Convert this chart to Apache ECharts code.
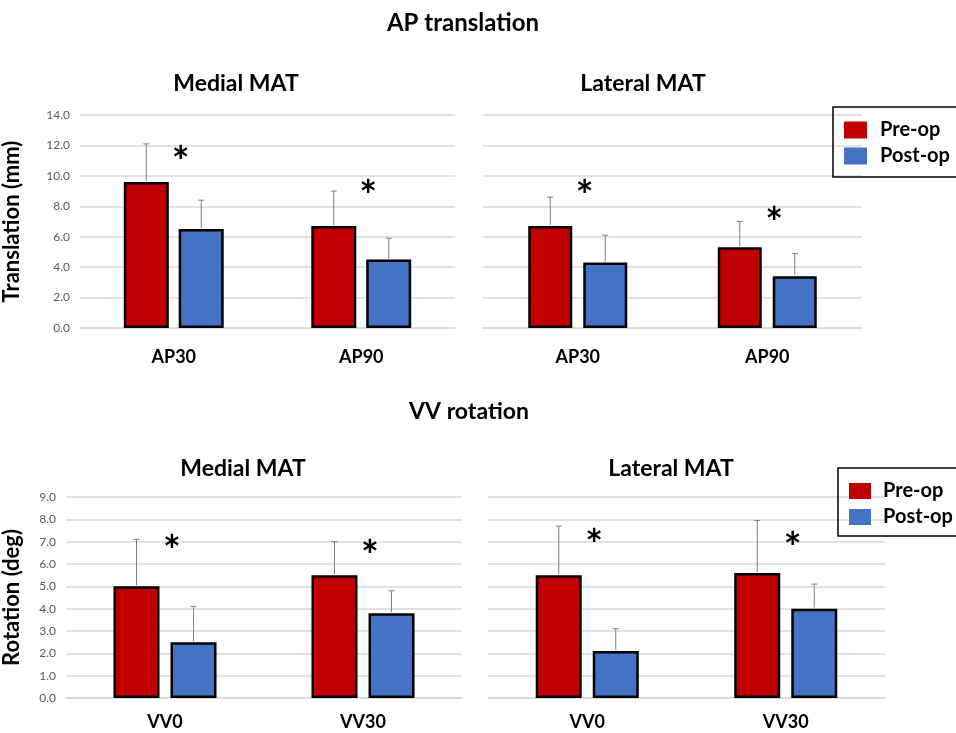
<!DOCTYPE html>
<html>
<head>
<meta charset="utf-8">
<script src="https://cdn.jsdelivr.net/npm/echarts@6/dist/echarts.min.js"></script>
<style>html,body{margin:0;padding:0;background:#fff;}#c{width:956px;height:733px;}</style>
</head>
<body>
<div id="c"></div>
<script>
// ---- data ----
const apCategories = ['AP30', 'AP90'];
const vvCategories = ['VV0', 'VV30'];

const apMedialPre = [9.6, 6.7];
const apMedialPreSD = [2.5, 2.3];
const apMedialPost = [6.5, 4.5];
const apMedialPostSD = [1.9, 1.4];

const apLateralPre = [6.7, 5.3];
const apLateralPreSD = [1.9, 1.7];
const apLateralPost = [4.3, 3.4];
const apLateralPostSD = [1.8, 1.5];

const vvMedialPre = [5.0, 5.5];
const vvMedialPreSD = [2.1, 1.5];
const vvMedialPost = [2.5, 3.8];
const vvMedialPostSD = [1.6, 1.0];

const vvLateralPre = [5.5, 5.6];
const vvLateralPreSD = [2.2, 2.35];
const vvLateralPost = [2.1, 4.0];
const vvLateralPostSD = [1.0, 1.1];

// significance markers (y value where the asterisk sits)
const apMedialStar = [11.4, 9.2];
const apLateralStar = [9.15, 7.4];
const vvMedialStar = [6.9, 6.7];
const vvLateralStar = [7.2, 7.05];

const apTicks = [0, 2, 4, 6, 8, 10, 12, 14];
const vvTicks = [0, 1, 2, 3, 4, 5, 6, 7, 8, 9];

// ---- style ----
const FONT = 'Lato, "Open Sans", sans-serif';
const RED = '#C00000', BLUE = '#4472C4';

const panels = [
  {grid: {left: 77, top: 115, width: 378, height: 213}, cats: apCategories, yMax: 14, yInt: 2, showY: true,
   yName: 'Translation (mm)', nameGap: 57, pre: apMedialPre, preSD: apMedialPreSD, post: apMedialPost, postSD: apMedialPostSD,
   star: apMedialStar, barW: 45, gapPx: 10, labelMargin: 20},
  {grid: {left: 483, top: 115, width: 379, height: 213}, cats: apCategories, yMax: 14, yInt: 2, showY: false,
   yName: '', nameGap: 0, pre: apLateralPre, preSD: apLateralPreSD, post: apLateralPost, postSD: apLateralPostSD,
   star: apLateralStar, barW: 44, gapPx: 11, labelMargin: 20},
  {grid: {left: 63, top: 497, width: 399, height: 201}, cats: vvCategories, yMax: 9, yInt: 1, showY: true,
   yName: 'Rotation (deg)', nameGap: 43, pre: vvMedialPre, preSD: vvMedialPreSD, post: vvMedialPost, postSD: vvMedialPostSD,
   star: vvMedialStar, barW: 46, gapPx: 11, labelMargin: 15},
  {grid: {left: 488, top: 497, width: 397, height: 201}, cats: vvCategories, yMax: 9, yInt: 1, showY: false,
   yName: '', nameGap: 0, pre: vvLateralPre, preSD: vvLateralPreSD, post: vvLateralPost, postSD: vvLateralPostSD,
   star: vvLateralStar, barW: 46, gapPx: 11, labelMargin: 15}
];

const grids = [], xAxes = [], yAxes = [], series = [];

panels.forEach((p, i) => {
  grids.push(Object.assign({containLabel: false}, p.grid));
  xAxes.push({
    type: 'category', gridIndex: i, data: p.cats,
    axisLine: {show: true, lineStyle: {color: '#d9d9d9', width: 1.5}},
    axisTick: {show: false},
    axisLabel: {fontFamily: FONT, fontSize: 18, fontWeight: 'bold', color: '#000', margin: p.labelMargin}
  });
  yAxes.push({
    type: 'value', gridIndex: i, min: 0, max: p.yMax, interval: p.yInt,
    name: p.yName, nameLocation: 'middle', nameGap: p.nameGap,
    nameTextStyle: {fontFamily: FONT, fontSize: 22, fontWeight: 'bold', color: '#000'},
    axisLine: {show: false}, axisTick: {show: false},
    axisLabel: {show: p.showY, fontFamily: FONT, fontSize: 12, color: '#595959', margin: 10,
                formatter: v => v.toFixed(1)},
    splitLine: {lineStyle: {color: '#d9d9d9', width: 1.5}}
  });
  const gapPct = Math.round(p.gapPx / p.barW * 100) + '%';
  series.push({
    type: 'bar', name: 'Pre-op', xAxisIndex: i, yAxisIndex: i, data: p.pre,
    barWidth: p.barW, barGap: gapPct, z: 2,
    itemStyle: {color: RED, borderColor: '#000', borderWidth: 2.5}
  });
  series.push({
    type: 'bar', name: 'Post-op', xAxisIndex: i, yAxisIndex: i, data: p.post,
    barWidth: p.barW, barGap: gapPct, z: 2,
    itemStyle: {color: BLUE, borderColor: '#000', borderWidth: 2.5}
  });
  const half = (p.barW + p.gapPx) / 2;
  [[p.pre, p.preSD, -half], [p.post, p.postSD, half]].forEach(([vals, sds, off]) => {
    series.push({
      type: 'custom', xAxisIndex: i, yAxisIndex: i, z: 3,
      data: vals.map((v, k) => [k, v, sds[k]]),
      encode: {x: 0, y: 1},
      renderItem: (params, api) => {
        const base = api.coord([api.value(0), api.value(1)]);
        const top = api.coord([api.value(0), api.value(1) + api.value(2)]);
        const x = base[0] + off;
        return {type: 'group', children: [
          {type: 'line', shape: {x1: x, y1: base[1] - 1, x2: x, y2: top[1]},
           style: {stroke: '#7f7f7f', lineWidth: 1}},
          {type: 'line', shape: {x1: x - 3, y1: top[1], x2: x + 3, y2: top[1]},
           style: {stroke: '#7f7f7f', lineWidth: 1}}
        ]};
      }
    });
  });
  series.push({
    type: 'custom', xAxisIndex: i, yAxisIndex: i, z: 4,
    data: p.star.map((v, k) => [k, v]),
    encode: {x: 0, y: 1},
    renderItem: (params, api) => {
      const c = api.coord([api.value(0), api.value(1)]);
      return {type: 'text', x: c[0] + 7, y: c[1] + 9,
        style: {text: '*', fontFamily: FONT, fontSize: 42, fontWeight: 'bold', fill: '#000',
                align: 'center', verticalAlign: 'middle'}};
    }
  });
});

const titleStyle = {fontFamily: FONT, fontWeight: 'bold', color: '#000'};
const option = {
  animation: false,
  backgroundColor: '#fff',
  title: [
    {text: 'AP translation', left: 458, top: 6, textAlign: 'center', textStyle: Object.assign({fontSize: 24}, titleStyle)},
    {text: 'Medial MAT', left: 231, top: 67, textAlign: 'center', textStyle: Object.assign({fontSize: 23}, titleStyle)},
    {text: 'Lateral MAT', left: 638, top: 67, textAlign: 'center', textStyle: Object.assign({fontSize: 23}, titleStyle)},
    {text: 'VV rotation', left: 464, top: 395, textAlign: 'center', textStyle: Object.assign({fontSize: 23}, titleStyle)},
    {text: 'Medial MAT', left: 238, top: 452, textAlign: 'center', textStyle: Object.assign({fontSize: 23}, titleStyle)},
    {text: 'Lateral MAT', left: 666, top: 452, textAlign: 'center', textStyle: Object.assign({fontSize: 23}, titleStyle)}
  ],
  legend: [
    {data: ['Pre-op', 'Post-op'], orient: 'vertical', left: 833, top: 107, icon: 'rect',
     itemWidth: 23, itemHeight: 17, itemGap: 6, padding: [13, 30, 11, 11],
     borderColor: '#000', borderWidth: 1.5, selectedMode: false,
     itemStyle: {borderWidth: 0},
     textStyle: {fontFamily: FONT, fontSize: 20, fontWeight: 'bold', color: '#000', padding: [0, 0, 0, 8]}},
    {data: ['Pre-op', 'Post-op'], orient: 'vertical', left: 838, top: 468, icon: 'rect',
     itemWidth: 22, itemHeight: 16, itemGap: 6, padding: [13, 30, 9, 11],
     borderColor: '#000', borderWidth: 1.5, selectedMode: false,
     itemStyle: {borderWidth: 0},
     textStyle: {fontFamily: FONT, fontSize: 20, fontWeight: 'bold', color: '#000', padding: [0, 0, 0, 7]}}
  ],
  grid: grids, xAxis: xAxes, yAxis: yAxes, series: series
};

const chart = echarts.init(document.getElementById('c'), null, {renderer: 'canvas'});
chart.setOption(option);
</script>
</body>
</html>
